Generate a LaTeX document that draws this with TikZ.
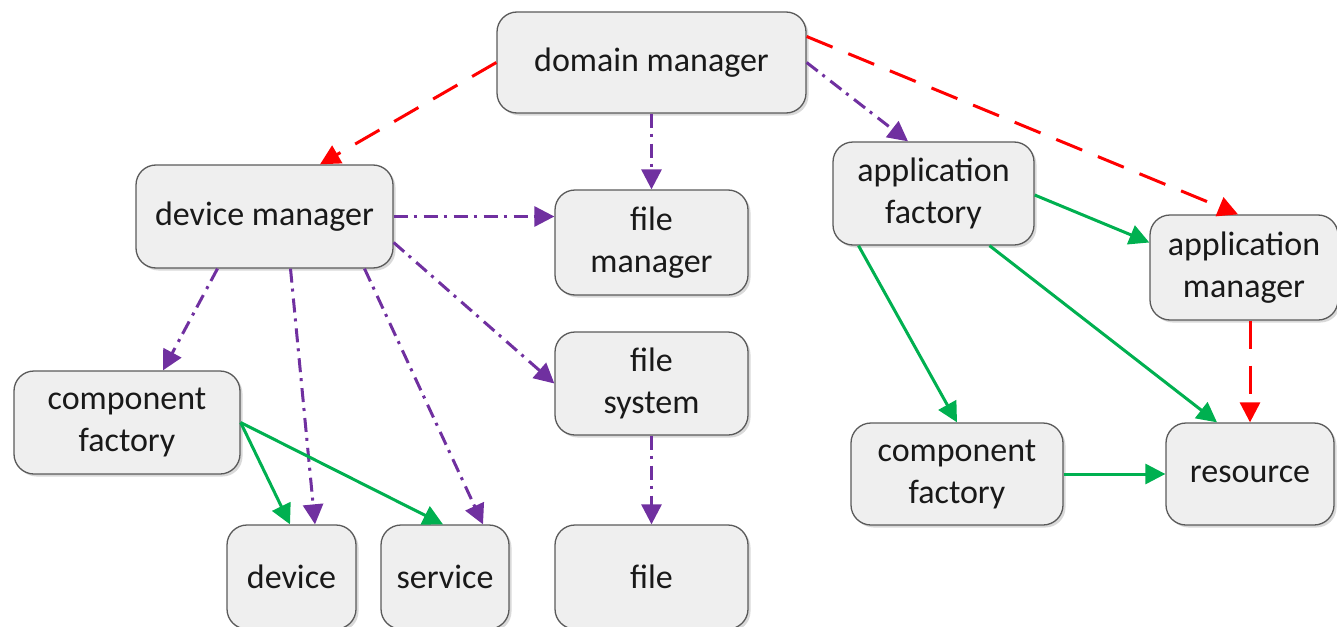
\documentclass[tikz,border=0pt]{standalone}
\usepackage{fontspec}
\setmainfont{Carlito}
\usetikzlibrary{arrows.meta,shadows}
\definecolor{boxfill}{HTML}{EFEFEF}
\definecolor{boxline}{HTML}{5A5A5A}
\definecolor{ctrlred}{HTML}{FF0000}
\definecolor{mgmtpurple}{HTML}{7030A0}
\definecolor{creategreen}{HTML}{00B050}
\tikzset{
  unit/.style={draw=boxline, line width=1.3pt, fill=boxfill, rounded corners=20pt,
    align=center, inner sep=0pt, font=\fontsize{34}{42}\selectfont, text=black!90,
    drop shadow={shadow xshift=2.5pt, shadow yshift=-2.5pt, opacity=0.25, fill=black!60}},
  tip/.style={-{Triangle[length=20pt,width=20pt]}},
  ctrl/.style={tip, draw=ctrlred, line width=3pt, dash pattern=on 28pt off 17pt},
  mgmt/.style={tip, draw=mgmtpurple, line width=3pt, dash pattern=on 14pt off 6pt on 3pt off 7pt},
  create/.style={tip, draw=creategreen, line width=3pt},
}
\begin{document}
\begin{tikzpicture}[x=1pt, y=-1pt]
  \useasboundingbox (0,0) rectangle (1337,626);

  % boxes
  \node[unit, minimum width=309pt, minimum height=101pt] (dm)   at (651.5, 62.5)  {domain manager};
  \node[unit, minimum width=257pt, minimum height=103pt] (devm) at (264.5, 216.5) {device manager};
  \node[unit, minimum width=193pt, minimum height=105pt] (fm)   at (651.5, 242.5) {file\\manager};
  \node[unit, minimum width=201pt, minimum height=103pt] (af)   at (933.5, 193.5) {application\\factory};
  \node[unit, minimum width=188pt, minimum height=105pt] (am)   at (1244, 267.5)  {application\\manager};
  \node[unit, minimum width=226pt, minimum height=103pt] (cfl)  at (127, 422.5)   {component\\factory};
  \node[unit, minimum width=193pt, minimum height=103pt] (fs)   at (651.5, 383.5) {file\\system};
  \node[unit, minimum width=212pt, minimum height=102pt] (cfr)  at (957, 474)     {component\\factory};
  \node[unit, minimum width=168pt, minimum height=102pt] (res)  at (1250, 474)    {resource};
  \node[unit, minimum width=129pt, minimum height=104pt] (dev)  at (291.5, 577)   {device};
  \node[unit, minimum width=128pt, minimum height=104pt] (svc)  at (445, 577)     {service};
  \node[unit, minimum width=193pt, minimum height=104pt] (file) at (651.5, 577)   {file};

  % control links
  \draw[ctrl] (dm.west) -- ([xshift=55.5pt]devm.north);
  \draw[ctrl] ([yshift=26pt]dm.east) -- ([xshift=-6pt]am.north);
  \draw[ctrl] ([xshift=6pt]am.south) -- (res.north);

  % management links
  \draw[mgmt] (dm.south) -- (fm.north);
  \draw[mgmt] (dm.east) -- ([xshift=-25.5pt]af.north);
  \draw[mgmt] (devm.east) -- ([yshift=26pt]fm.west);
  \draw[mgmt] ([yshift=-26pt]devm.east) -- (fs.west);
  \draw[mgmt] ([xshift=-47pt]devm.south) -- ([xshift=36pt]cfl.north);
  \draw[mgmt] ([xshift=26pt]devm.south) -- ([xshift=23.5pt]dev.north);
  \draw[mgmt] ([xshift=100pt]devm.south) -- ([xshift=38pt]svc.north);
  \draw[mgmt] (fs.south) -- (file.north);

  % creation links
  \draw[create] (cfl.east) -- ([xshift=-1.5pt]dev.north);
  \draw[create] (cfl.east) -- ([xshift=-2pt]svc.north);
  \draw[create] ([yshift=-1.5pt]af.east) -- ([yshift=25pt]am.west);
  \draw[create] ([xshift=-75pt]af.south) -- (cfr.north);
  \draw[create] ([xshift=56pt]af.south) -- ([xshift=-33pt]res.north);
  \draw[create] (cfr.east) -- (res.west);
\end{tikzpicture}
\end{document}
